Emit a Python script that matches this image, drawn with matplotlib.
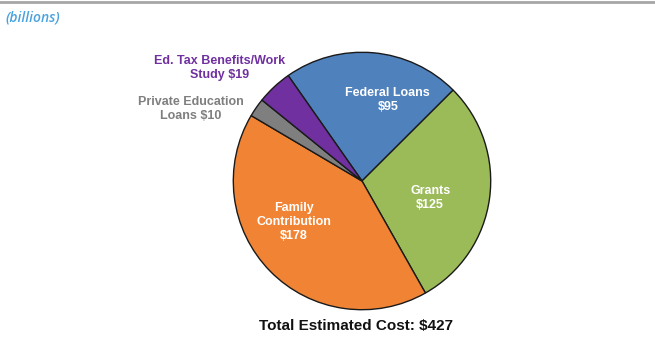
import matplotlib
matplotlib.use("Agg")
import matplotlib.pyplot as plt

# Sources of funding (billions of dollars)
categories = ["Federal Loans", "Grants", "Family\nContribution",
              "Private Education\nLoans", "Ed. Tax Benefits/Work\nStudy"]
values = [95, 125, 178, 10, 19]
colors = ["#4f81bd", "#9bbb59", "#f08434", "#7f7f7f", "#7030a0"]
label_colors = ["white", "white", "white", "#7f7f7f", "#7030a0"]
value_sep = ["\n", "\n", "\n", " ", " "]
# label centres in axes data units (pie radius = 1)
label_pos = [(0.20, 0.63), (0.53, -0.13), (-0.53, -0.32), (-1.33, 0.56), (-1.11, 0.88)]
total_label = "Total Estimated Cost: ${}"

plt.rcParams["font.family"] = ["Liberation Sans", "DejaVu Sans"]

W, H = 655, 345
fig = plt.figure(figsize=(W / 100, H / 100), dpi=100)

cx, cy, r = 362, 181, 130
ax = fig.add_axes([(cx - r) / W, (H - cy - r) / H, 2 * r / W, 2 * r / H])
ax.pie(values, colors=colors, startangle=125, counterclock=False, radius=1,
       wedgeprops=dict(edgecolor="#1a1a1a", linewidth=1.0))
ax.set_xlim(-1.01, 1.01)
ax.set_ylim(-1.01, 1.01)
ax.set_aspect("equal")
ax.axis("off")

for name, val, sep, (x, y), c in zip(categories, values, value_sep, label_pos, label_colors):
    ax.text(x, y, f"{name}{sep}${val}", ha="center", va="center", color=c,
            fontsize=9, fontweight="bold", linespacing=1.2, clip_on=False)

ax.text(-0.046, -1.125, total_label.format(sum(values)), ha="center", va="center",
        fontsize=11, fontweight="bold", color="#111111", clip_on=False)

# header rule and unit note
fig.add_artist(plt.Line2D([0, 1], [1 - 1.5 / H, 1 - 1.5 / H], color="#a6a6a6",
                          linewidth=2, transform=fig.transFigure))
fig.text(5 / W, 1 - 18 / H, "(billions)", ha="left", va="center", color="#4aa3df",
         fontsize=10, fontstyle="italic", fontweight="semibold",
         family=["Open Sans", "DejaVu Sans"])

fig.savefig("out.png", dpi=100, facecolor="white")
